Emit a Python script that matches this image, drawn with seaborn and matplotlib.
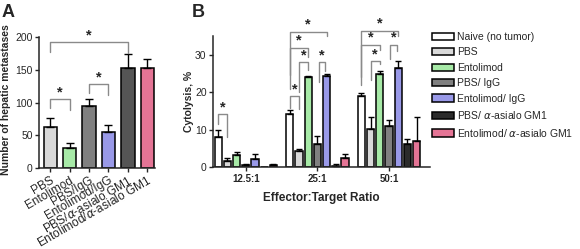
import numpy as np
import pandas as pd
import matplotlib
matplotlib.use("Agg")
import matplotlib.pyplot as plt
import seaborn as sns

sns.set_style("ticks")
plt.rcParams['font.family'] = ['Liberation Sans', 'DejaVu Sans']

# Panel A data
groups_a = ["PBS", "Entolimod", "PBS/IgG", "Entolimod/IgG",
            r"PBS/$\alpha$-asialo GM1", r"Entolimod/$\alpha$-asialo GM1"]
metastases = [63, 30, 95, 55, 153, 153]
metastases_err = [13, 8, 11, 11, 21, 13]
colors_a = ["#d9d9d9", "#9cf59c", "#808080", "#8c8cf5", "#555555", "#f7618e"]

# Panel B data
ratios = ["12.5:1", "25:1", "50:1"]
treatments = ["Naive (no tumor)", "PBS", "Entolimod", "PBS/ IgG", "Entolimod/ IgG",
              r"PBS/ $\alpha$-asialo GM1", r"Entolimod/ $\alpha$-asialo GM1"]
# values per treatment across ratios
cyto = {
    "Naive (no tumor)": [8.0, 14.3, 19.0],
    "PBS": [1.5, 4.3, 10.1],
    "Entolimod": [3.3, 24.1, 24.9],
    "PBS/ IgG": [0.6, 6.1, 11.0],
    "Entolimod/ IgG": [2.2, 24.4, 26.5],
    r"PBS/ $\alpha$-asialo GM1": [0.1, 0.4, 6.3],
    r"Entolimod/ $\alpha$-asialo GM1": [0.5, 2.4, 6.9],
}
cyto_err = {
    "Naive (no tumor)": [2.0, 1.0, 0.7],
    "PBS": [1.0, 0.6, 3.3],
    "Entolimod": [0.8, 0.3, 0.7],
    "PBS/ IgG": [0.2, 2.3, 1.5],
    "Entolimod/ IgG": [1.2, 0.4, 2.0],
    r"PBS/ $\alpha$-asialo GM1": [0.0, 0.4, 1.3],
    r"Entolimod/ $\alpha$-asialo GM1": [0.2, 1.0, 6.4],
}
colors_b = ["#ffffff", "#d9d9d9", "#9cf59c", "#808080", "#8c8cf5", "#2b2b2b", "#f7618e"]

df = pd.DataFrame([(r, t, cyto[t][i]) for t in treatments for i, r in enumerate(ratios)],
                  columns=["ratio", "treatment", "value"])

fig = plt.figure(figsize=(5.8, 2.49), dpi=100)
axA = fig.add_axes([0.067, 0.325, 0.2, 0.526])
axB = fig.add_axes([0.367, 0.329, 0.374, 0.525])

BR = "#8a8a8a"


def bracket(ax, x1, x2, y, l1, l2):
    ax.plot([x1, x1, x2, x2], [l1, y, y, l2], color=BR, lw=1, clip_on=False)
    ax.text((x1 + x2) / 2, y, "*", ha="center", va="bottom", fontsize=10.5,
            fontweight="bold", clip_on=False)


# ---- Panel A ----
sns.barplot(x=groups_a, y=metastases, hue=groups_a, palette=colors_a, legend=False,
            edgecolor="black", linewidth=1.1, width=0.69, ax=axA)
for cont, err in zip(axA.containers, metastases_err):
    bar = cont[0]
    axA.errorbar(bar.get_x() + bar.get_width() / 2, bar.get_height(), yerr=[[0], [err]],
                 fmt="none", ecolor="black", elinewidth=1, capsize=3, capthick=1)
axA.set_xlim(-0.59, 5.39)
axA.set_ylim(0, 200)
axA.set_yticks([0, 50, 100, 150, 200])
axA.set_ylabel("Number of hepatic metastases", fontsize=7.5, fontweight="bold", labelpad=4)
axA.yaxis.set_label_coords(-0.24, 0.52)
axA.set_xticks(range(len(groups_a)))
axA.set_xticklabels(groups_a, rotation=30, ha="right", rotation_mode="anchor", fontsize=8.6)
axA.tick_params(axis="y", labelsize=7.5, length=3, width=1, pad=1.5)
axA.tick_params(axis="x", length=3, width=1, pad=1.5)
bracket(axA, 0, 1, 105, 92, 88)
bracket(axA, 2, 3, 128, 114, 112)
bracket(axA, 0, 4, 192, 177, 175)

# ---- Panel B ----
sns.barplot(data=df, x="ratio", y="value", hue="treatment", hue_order=treatments,
            palette=colors_b, edgecolor="black", linewidth=1.1, width=0.9, gap=0.23,
            legend=True, ax=axB)
centers = []
for cont, t in zip(axB.containers, treatments):
    cs = []
    for bar, err in zip(cont, cyto_err[t]):
        cx = bar.get_x() + bar.get_width() / 2
        cs.append(cx)
        if err > 0:
            axB.errorbar(cx, bar.get_height(), yerr=[[0], [err]], fmt="none",
                         ecolor="black", elinewidth=1, capsize=2.5, capthick=1)
    centers.append(cs)


def c(h, g):
    return centers[h][g]


bracket(axB, c(0, 0), c(1, 0), 14.2, 11.5, 8)
bracket(axB, c(0, 1), c(1, 1), 19.0, 15.8, 15.5)
bracket(axB, c(1, 1), c(2, 1), 28.1, 20, 26)
bracket(axB, c(0, 1), c(2, 1), 31.9, 21, 29.5)
bracket(axB, c(0, 1), c(4, 1), 36.2, 24.7, 35)
bracket(axB, c(3, 1) + 0.02, c(4, 1) - 0.02, 28.1, 22.8, 25.7)
bracket(axB, c(0, 2), c(4, 2), 36.5, 24, 35)
bracket(axB, c(0, 2), c(2, 2), 32.7, 22, 31.4)
bracket(axB, c(1, 2), c(2, 2), 28.4, 23.3, 27.6)
bracket(axB, c(3, 2) + 0.02, c(4, 2) - 0.02, 32.7, 29, 31.1)

axB.set_xlim(-0.46, 2.57)
axB.set_ylim(0, 35)
axB.set_yticks([0, 10, 20, 30])
axB.set_ylabel("Cytolysis, %", fontsize=7.5, fontweight="bold", labelpad=1)
axB.set_xlabel("Effector:Target Ratio", fontsize=8.5, fontweight="bold", labelpad=6)
axB.tick_params(axis="y", labelsize=7.5, length=3, width=1, pad=1.5)
axB.tick_params(axis="x", labelsize=7, length=3, width=1, pad=2)
for lab in axB.get_xticklabels():
    lab.set_fontweight("bold")

handles, labels = axB.get_legend_handles_labels()
axB.legend_.remove()
fig.legend(handles, labels, loc="upper left", bbox_to_anchor=(432 / 580, 1 - 32 / 249),
           frameon=False, fontsize=7.5, handlelength=2.1, handleheight=0.7,
           handletextpad=0.3, labelspacing=0.52, borderpad=0, borderaxespad=0)

for ax in (axA, axB):
    sns.despine(ax=ax)
    for s in ("left", "bottom"):
        ax.spines[s].set_linewidth(1.1)

fig.text(0.003, 0.985, "A", fontsize=13, fontweight="bold", va="top")
fig.text(0.33, 0.985, "B", fontsize=13, fontweight="bold", va="top")

fig.savefig("out.png", dpi=100)
